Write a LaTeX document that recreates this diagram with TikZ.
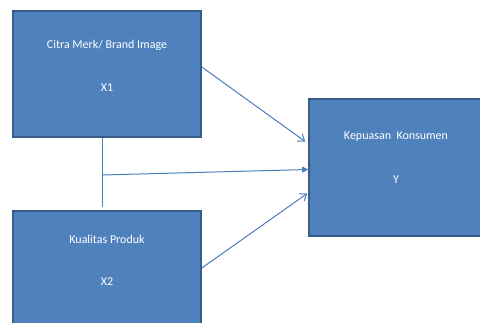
\documentclass[tikz,border=0pt]{standalone}
\usepackage{fontspec}
\setmainfont{Carlito}
\usetikzlibrary{arrows.meta,calc,positioning}
\definecolor{boxfill}{HTML}{4F81BD}
\definecolor{boxline}{HTML}{385D8A}
\definecolor{wire}{HTML}{4A7EBB}
\tikzstyle{varbox} = [rectangle, draw=boxline, line width=1.6pt, fill=boxfill, inner sep=0pt]
\tikzstyle{vartext} = [text=white, font=\fontsize{12}{14}\selectfont, inner sep=0pt]
\tikzstyle{wire} = [draw=wire, line width=1pt]
\tikzstyle{arrow} = [wire, -{Straight Barb[length=6pt,width=9pt]}]
\tikzstyle{arrowf} = [wire, -{Triangle[length=6pt,width=6pt]}]

\begin{document}
\begin{tikzpicture}[x=1pt, y=-1pt]
    \clip (0,0) rectangle (480,322);
    \useasboundingbox (0,0) rectangle (480,322);
    \fill[white] (0,0) rectangle (480,322);
    % boxes
    \node (x1)[varbox, minimum width=188pt, minimum height=126pt] at (107,74) {};
    \node (x2)[varbox, minimum width=188pt, minimum height=124pt] at (107,273) {};
    \node (y)[varbox, minimum width=190pt, minimum height=137pt] at (404,167.5) {};
    % texts
    \node (t1)[vartext] at (107,45) {Citra Merk/ Brand Image};
    \node (v1)[vartext] at (107,88) {X1};
    \node (t2)[vartext] at (107,239) {Kualitas Produk};
    \node (v2)[vartext] at (107,282) {X2};
    \node (t3)[vartext] at (396,137) {Kepuasan\ \ Konsumen};
    \node (v3)[vartext] at (396,180) {Y};
    % connectors
    \coordinate (jn) at (102,175);
    \coordinate (jtop) at (102,207);
    \draw [wire] (x1.south -| jn) -- (jtop);
    \draw [arrowf] (jn) -- ($(y.west)+(0,2)$);
    \draw [arrow] ($(x1.east)+(0,-7)$) -- ($(y.west)+(-3,-26)$);
    \draw [arrow] ($(x2.east)+(0,-5)$) -- ($(y.west)+(-1,26)$);
\end{tikzpicture}
\end{document}
